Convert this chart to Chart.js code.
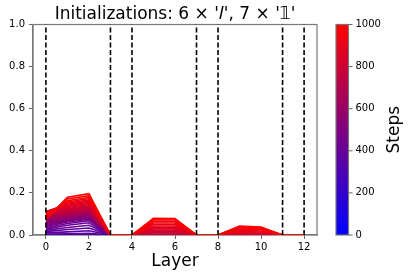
<!DOCTYPE html>
<html><head><meta charset="utf-8">
<script src="https://cdn.jsdelivr.net/npm/chart.js@4"></script>
<style>html,body{margin:0;padding:0;background:#fff}canvas{display:block}</style>
</head><body>
<canvas id="c" width="415" height="277"></canvas>
<script>
const layers = [0,1,2,3,4,5,6,7,8,9,10,11,12];
const steps = [0,20,40,60,80,100,120,140,160,180,200,220,240,260,280,300,320,340,360,380,400,420,440,460,480,500,520,540,560,580,600,620,640,660,680,700,720,740,760,780,800,820,840,860,880,900,920,940,960,980,1000];
const layer0 = [0,0,0,0,0,0,0,0,0,0, 0,0,0,0,0,0,0,
  0.004,0.01,0.016,0.022,0.028,0.034,0.04,0.045,0.05,0.055,0.06,0.064,0.068,0.072,0.076,0.079,0.082,0.085,0.088,0.091,0.094,0.097,0.1,0.103,0.106,0.109,0.111,0.112,0.111,0.107,0.1,0.092,0.083,0.075];
const layer1 = [0,0,0,0,0,0,0,0,0,0, 0,0,0,0,0,0,0,
  0.006,0.015,0.026,0.036,0.046,0.055,0.062,0.067,0.071,0.075,0.078,0.081,0.084,0.087,0.09,0.093,0.096,0.099,0.102,0.106,0.11,0.114,0.118,0.122,0.126,0.131,0.136,0.141,0.146,0.151,0.157,0.163,0.171,0.179];
const layer2 = [0,0,0,0,0,0,0,0,0,0, 0,0,0,0,0,0,0,
  0.008,0.02,0.033,0.046,0.058,0.068,0.075,0.08,0.084,0.087,0.09,0.093,0.096,0.099,0.102,0.105,0.108,0.111,0.114,0.118,0.122,0.126,0.13,0.134,0.139,0.144,0.149,0.155,0.161,0.167,0.173,0.179,0.187,0.196];
const layer5 = [0,0,0,0,0,0,0,0,0,0, 0,0,0,0,0,0,0,0,0,0, 0,0,0,0,0,0,0,0,0,0, 0,0,0,0,0,0,0,0,0,
  0.004,0.01,0.016,0.022,0.029,0.036,0.043,0.05,0.057,0.064,0.072,0.079];
const layer6 = [0,0,0,0,0,0,0,0,0,0, 0,0,0,0,0,0,0,0,0,0, 0,0,0,0,0,0,0,0,0,0, 0,0,0,0,0,0,0,0,0,
  0.004,0.01,0.016,0.022,0.029,0.036,0.043,0.05,0.057,0.064,0.071,0.078];
const layer9 = [0,0,0,0,0,0,0,0,0,0, 0,0,0,0,0,0,0,0,0,0, 0,0,0,0,0,0,0,0,0,0, 0,0,0,0,0,0,0,0,0,0, 0,0,0,
  0.004,0.01,0.016,0.022,0.028,0.034,0.039,0.043];
const layer10 = [0,0,0,0,0,0,0,0,0,0, 0,0,0,0,0,0,0,0,0,0, 0,0,0,0,0,0,0,0,0,0, 0,0,0,0,0,0,0,0,0,0, 0,0,0,
  0.003,0.009,0.014,0.019,0.025,0.03,0.034,0.038];
const zeroLayer = [0,0,0,0,0,0,0,0,0,0, 0,0,0,0,0,0,0,0,0,0, 0,0,0,0,0,0,0,0,0,0, 0,0,0,0,0,0,0,0,0,0, 0,0,0,0,0,0,0,0,0,0, 0];
const layerSeries = [layer0, layer1, layer2, zeroLayer, zeroLayer, layer5, layer6, zeroLayer, zeroLayer, layer9, layer10, zeroLayer, zeroLayer];
const boundaries = [0,3,4,7,8,11,12];
const xTicks = [0,2,4,6,8,10,12];
const yTicks = [0,0.2,0.4,0.6,0.8,1.0];
const cbTicks = [0,200,400,600,800,1000];
const titleText = "Initializations: 6 \u00d7 '\u{1D43C}', 7 \u00d7 '\u{1D7D9}'";

const FONT = "'DejaVu Sans', sans-serif";
Chart.defaults.font.family = FONT;
Chart.defaults.color = '#000';

function stepColor(s) {
  const t = s / 1000;
  return `rgb(${Math.round(255 * t)},0,${Math.round(255 * (1 - t))})`;
}

const datasets = [];
steps.forEach((s, i) => {
  datasets.push({
    data: layers.map((L, j) => ({x: L, y: layerSeries[j][i]})),
    borderColor: stepColor(s),
    borderWidth: 1.6,
    pointRadius: 0,
    tension: 0,
    fill: false,
    order: 10 + (1000 - s)
  });
});
boundaries.forEach(b => {
  datasets.push({
    data: [{x: b, y: 0}, {x: b, y: 1}],
    borderColor: '#000',
    borderWidth: 1.6,
    borderDash: [5, 2.5],
    pointRadius: 0,
    fill: false,
    order: 0
  });
});

const decor = {
  id: 'decor',
  beforeDatasetsDraw(chart) {
    const {ctx, chartArea: a} = chart;
    ctx.save();
    ctx.strokeStyle = '#777';
    ctx.lineWidth = 1.2;
    ctx.strokeRect(a.left, a.top, a.right - a.left, a.bottom - a.top);
    ctx.restore();
  },
  afterDraw(chart) {
    const {ctx, chartArea: a} = chart;
    ctx.save();
    ctx.fillStyle = '#000';
    ctx.font = `17px ${FONT}`;
    ctx.textAlign = 'center';
    ctx.textBaseline = 'alphabetic';
    ctx.fillText(titleText, (a.left + a.right) / 2, 19);
    const x0 = 336, x1 = 348.5;
    const g = ctx.createLinearGradient(0, a.bottom, 0, a.top);
    g.addColorStop(0, stepColor(0));
    g.addColorStop(1, stepColor(1000));
    ctx.fillStyle = g;
    ctx.fillRect(x0, a.top, x1 - x0, a.bottom - a.top);
    ctx.strokeStyle = '#777';
    ctx.lineWidth = 1.2;
    ctx.strokeRect(x0, a.top, x1 - x0, a.bottom - a.top);
    ctx.font = `10px ${FONT}`;
    ctx.textAlign = 'left';
    ctx.textBaseline = 'middle';
    ctx.fillStyle = '#000';
    cbTicks.forEach(v => {
      const y = a.bottom - (v / 1000) * (a.bottom - a.top);
      ctx.beginPath();
      ctx.moveTo(x1, y); ctx.lineTo(x1 + 4, y);
      ctx.strokeStyle = '#666'; ctx.lineWidth = 1;
      ctx.stroke();
      ctx.fillText(String(v), x1 + 7, y);
    });
    ctx.translate(395, (a.top + a.bottom) / 2);
    ctx.rotate(-Math.PI / 2);
    ctx.font = `17px ${FONT}`;
    ctx.textAlign = 'center';
    ctx.textBaseline = 'middle';
    ctx.fillText('Steps', 0, 0);
    ctx.restore();
  }
};

new Chart(document.getElementById('c'), {
  type: 'line',
  data: {datasets},
  options: {
    responsive: false,
    animation: false,
    devicePixelRatio: 1,
    layout: {padding: {top: 24.5, right: 98, bottom: 0, left: 0}},
    plugins: {legend: {display: false}, tooltip: {enabled: false}, title: {display: false}},
    scales: {
      x: {
        type: 'linear', min: -0.6, max: 12.6,
        afterBuildTicks: s => { s.ticks = xTicks.map(v => ({value: v})); },
        afterFit: s => { s.height = 42; },
        grid: {drawOnChartArea: false, tickLength: 4, color: '#666'},
        border: {color: '#777', width: 1.2},
        ticks: {font: {size: 10}, color: '#000', padding: 2, maxRotation: 0},
        title: {display: true, text: 'Layer', font: {size: 17}, color: '#000', padding: {top: 0, bottom: 5}}
      },
      y: {
        type: 'linear', min: 0, max: 1,
        afterBuildTicks: s => { s.ticks = yTicks.map(v => ({value: v})); },
        afterFit: s => { s.width = 33; },
        grid: {drawOnChartArea: false, tickLength: 4, color: '#666'},
        border: {color: '#777', width: 1.2},
        ticks: {font: {size: 10}, color: '#000', padding: 4, callback: v => v.toFixed(1)}
      }
    }
  },
  plugins: [decor]
});
</script>
</body></html>
